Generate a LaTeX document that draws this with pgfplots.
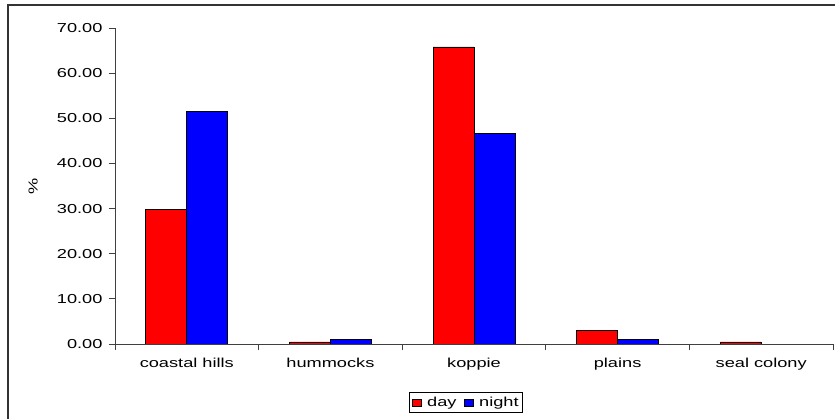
\documentclass[border=0pt]{standalone}
\usepackage{fontspec}
\setmainfont{Liberation Sans}[FakeStretch=1.4]
\usepackage{pgfplots}
\pgfplotsset{compat=1.18}
\begin{document}
\fontsize{13}{15}\selectfont
\begin{tikzpicture}
\useasboundingbox (-115pt,-75pt) rectangle (720pt,344pt);
\begin{axis}[
scale only axis,
width=718pt, height=316pt,
ybar=0pt, bar width=41pt,
xmin=-0.5, xmax=4.5,
ymin=0, ymax=70,
xtick={-0.5,0.5,1.5,2.5,3.5,4.5},
x tick label as interval,
xticklabels={coastal hills,hummocks,koppie,plains,seal colony},
ytick={0,10,...,70},
yticklabel style={/pgf/number format/fixed,/pgf/number format/precision=2,/pgf/number format/fixed zerofill},
/pgf/number format/assume math mode=true,
axis lines=left,
axis line style={-, black!75, line width=0.8pt},
tick align=outside, major tick length=6pt,
tick style={black!75, line width=0.8pt},
xticklabel style={yshift=-4pt},
yticklabel style={xshift=-2pt},
ylabel={\%},
ylabel style={at={(axis description cs:-0.114,0.5)}, anchor=center, rotate=0},
legend columns=2,
legend style={at={(axis description cs:0.489,-0.185)}, anchor=center, draw=black, line width=0.6pt,
  /tikz/every even column/.append style={column sep=5pt}, inner sep=2pt},
legend image code/.code={\draw[#1,line width=0.6pt] (0pt,-3.5pt) rectangle (9pt,3.5pt);},
]
\addplot[fill=red, draw=black, line width=0.9pt] coordinates {(0,29.7) (1,0.45) (2,65.8) (3,3.1) (4,0.45)};
\addlegendentry{\hspace{4pt}day}
\addplot[fill=blue, draw=black, line width=0.9pt] coordinates {(0,51.5) (1,1.0) (2,46.6) (3,0.95)};
\addlegendentry{\hspace{4pt}night}
\end{axis}
\draw[line width=1.2pt, black!80] (-107pt,-80pt) -- (-107pt,339pt) -- (725pt,339pt);
\end{tikzpicture}
\end{document}
